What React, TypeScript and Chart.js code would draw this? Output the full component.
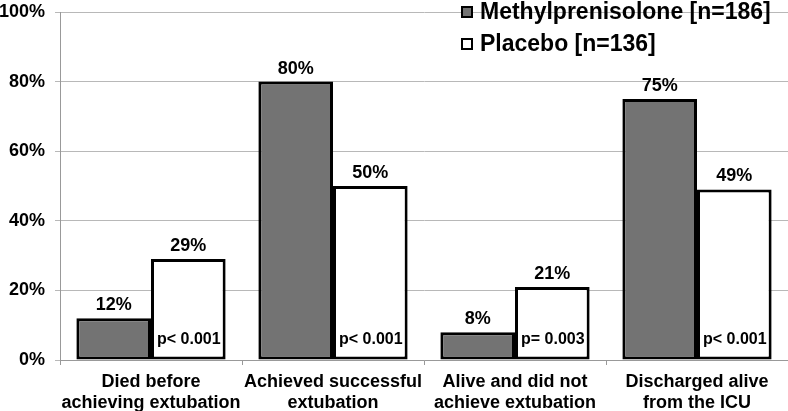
import React, { useEffect, useRef } from "react";
import { Chart, registerables } from "chart.js";

Chart.register(...registerables);

const categories: string[][] = [
  ["Died before", "achieving extubation"],
  ["Achieved successful", "extubation"],
  ["Alive and did not", "achieve extubation"],
  ["Discharged alive", "from the ICU"],
];
const methylValues = [12, 80, 8, 75];
const placeboValues = [29, 50, 21, 49];
const pValues = ["p< 0.001", "p< 0.001", "p= 0.003", "p< 0.001"];
const seriesNames = ["Methylprenisolone [n=186]", "Placebo [n=136]"];
const yTicks = [0, 20, 40, 60, 80, 100];

const FONT = "'Liberation Sans', Arial, sans-serif";
const GRAY = "#737373";

const labelPlugin = {
  id: "customLabels",
  afterDatasetsDraw(chart: any) {
    const ctx = chart.ctx;
    ctx.save();
    ctx.fillStyle = "#000";
    chart.data.datasets.forEach((ds: any, di: number) => {
      const meta = chart.getDatasetMeta(di);
      meta.data.forEach((bar: any, i: number) => {
        ctx.font = `bold 18px ${FONT}`;
        ctx.textAlign = "center";
        ctx.textBaseline = "bottom";
        ctx.fillText(ds.data[i] + "%", bar.x, bar.y - 4);
        if (di === 1) {
          ctx.font = `bold 16px ${FONT}`;
          ctx.textAlign = "right";
          ctx.textBaseline = "middle";
          ctx.fillText(pValues[i], bar.x + bar.width / 2 - 5, chart.scales.y.bottom - 20);
        }
      });
    });
    // legend
    const lx = 462;
    const rows = [
      { y: 12, fill: GRAY },
      { y: 44, fill: "#ffffff" },
    ];
    rows.forEach((r, i) => {
      ctx.fillStyle = r.fill;
      ctx.fillRect(lx, r.y - 5, 10, 10);
      ctx.strokeStyle = "#000";
      ctx.lineWidth = 2;
      ctx.strokeRect(lx, r.y - 5, 10, 10);
      ctx.fillStyle = "#000";
      ctx.font = `bold 23px ${FONT}`;
      ctx.textAlign = "left";
      ctx.textBaseline = "middle";
      ctx.fillText(seriesNames[i], 480, r.y + 1);
    });
    ctx.restore();
  },
};

export default function App() {
  const ref = useRef<HTMLCanvasElement>(null);
  useEffect(() => {
    document.body.style.margin = "0";
    const chart = new Chart(ref.current!, {
      type: "bar",
      data: {
        labels: categories,
        datasets: [
          {
            label: seriesNames[0],
            data: methylValues,
            backgroundColor: GRAY,
            borderColor: "#000",
            borderWidth: 3,
            borderSkipped: false,
            categoryPercentage: 0.82,
            barPercentage: 1,
          },
          {
            label: seriesNames[1],
            data: placeboValues,
            backgroundColor: "#ffffff",
            borderColor: "#000",
            borderWidth: 3,
            borderSkipped: false,
            categoryPercentage: 0.82,
            barPercentage: 1,
          },
        ],
      },
      options: {
        responsive: false,
        animation: false,
        layout: { padding: { top: 12, right: 0, left: 0, bottom: 0 } },
        plugins: { legend: { display: false }, tooltip: { enabled: false } },
        scales: {
          x: {
            grid: {
              display: true,
              drawOnChartArea: false,
              drawTicks: true,
              tickLength: 5,
              color: "#999",
              offset: true,
            },
            border: { color: "#999", width: 1 },
            ticks: {
              color: "#000",
              font: { family: FONT, size: 18, weight: "bold" },
              padding: 6,
              maxRotation: 0,
              autoSkip: false,
            },
            afterFit: (s: any) => {
              s.height = 51;
              s.paddingLeft = 0;
              s.paddingRight = 0;
            },
          },
          y: {
            min: 0,
            max: 100,
            afterBuildTicks: (s: any) => {
              s.ticks = yTicks.map((v) => ({ value: v }));
            },
            grid: { color: "#b8b8b8", tickLength: 5, lineWidth: 1 },
            border: { color: "#999", width: 1 },
            ticks: {
              color: "#000",
              font: { family: FONT, size: 18, weight: "bold" },
              padding: 10,
              callback: (v: any) => v + "%",
            },
            afterFit: (s: any) => {
              s.width = 60;
              s.paddingTop = 0;
              s.paddingBottom = 0;
            },
          },
        },
      },
      plugins: [labelPlugin],
    });
    return () => chart.destroy();
  }, []);
  return (
    <div style={{ position: "absolute", left: 0, top: 0, width: 788, height: 411 }}>
      <canvas ref={ref} width={788} height={411} />
    </div>
  );
}
